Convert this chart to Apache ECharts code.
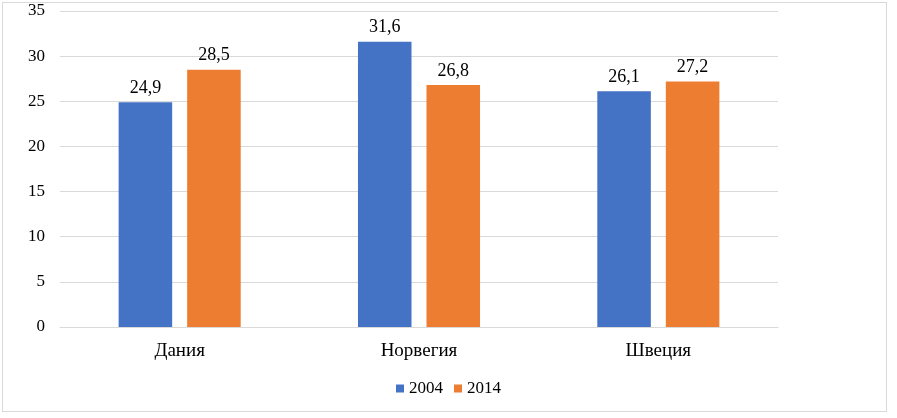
<!DOCTYPE html>
<html><head><meta charset="utf-8">
<script src="https://cdn.jsdelivr.net/npm/echarts@6/dist/echarts.min.js"></script>
<style>
html,body{margin:0;padding:0;background:#fff;}
#frame{position:absolute;left:2px;top:2px;width:885px;height:410px;border:1px solid #d9d9d9;box-sizing:border-box;}
#c{position:absolute;left:0;top:0;width:897px;height:418px;}
</style></head>
<body>
<div id="frame"></div>
<div id="c"></div>
<script>
const categories = ['Дания', 'Норвегия', 'Швеция'];
const series2004 = [24.9, 31.6, 26.1];
const series2014 = [28.5, 26.8, 27.2];
const seriesNames = ['2004', '2014'];
const fmt = p => String(p.value).replace('.', ',');
const font = '"Liberation Serif", "Times New Roman", serif';
const chart = echarts.init(document.getElementById('c'));
chart.setOption({
  animation: false,
  textStyle: {fontFamily: font},
  grid: {left: 60, right: 119, top: 11, bottom: 91, containLabel: false},
  legend: {
    data: seriesNames, top: 375, left: 'center', itemWidth: 8, itemHeight: 8, itemGap: 11,
    icon: 'rect', textStyle: {fontFamily: font, fontSize: 17, color: '#000', padding: [0, 0, 0, 0]}
  },
  xAxis: {
    type: 'category', data: categories,
    axisLine: {lineStyle: {color: '#d9d9d9'}}, axisTick: {show: false},
    axisLabel: {fontFamily: font, fontSize: 19, color: '#000', margin: 15}
  },
  yAxis: {
    type: 'value', min: 0, max: 35, interval: 5,
    axisLine: {show: false}, axisTick: {show: false},
    splitLine: {lineStyle: {color: '#d9d9d9'}},
    axisLabel: {fontFamily: font, fontSize: 17, color: '#000', margin: 15}
  },
  series: [
    {name: seriesNames[0], type: 'bar', data: series2004, itemStyle: {color: '#4472c4'},
     barGap: '28%', barCategoryGap: '49%',
     label: {show: true, position: 'top', distance: 5, formatter: fmt, fontFamily: font, fontSize: 18, color: '#000'}},
    {name: seriesNames[1], type: 'bar', data: series2014, itemStyle: {color: '#ed7d31'},
     barGap: '28%', barCategoryGap: '49%',
     label: {show: true, position: 'top', distance: 5, formatter: fmt, fontFamily: font, fontSize: 18, color: '#000'}}
  ]
});
</script>
</body></html>
